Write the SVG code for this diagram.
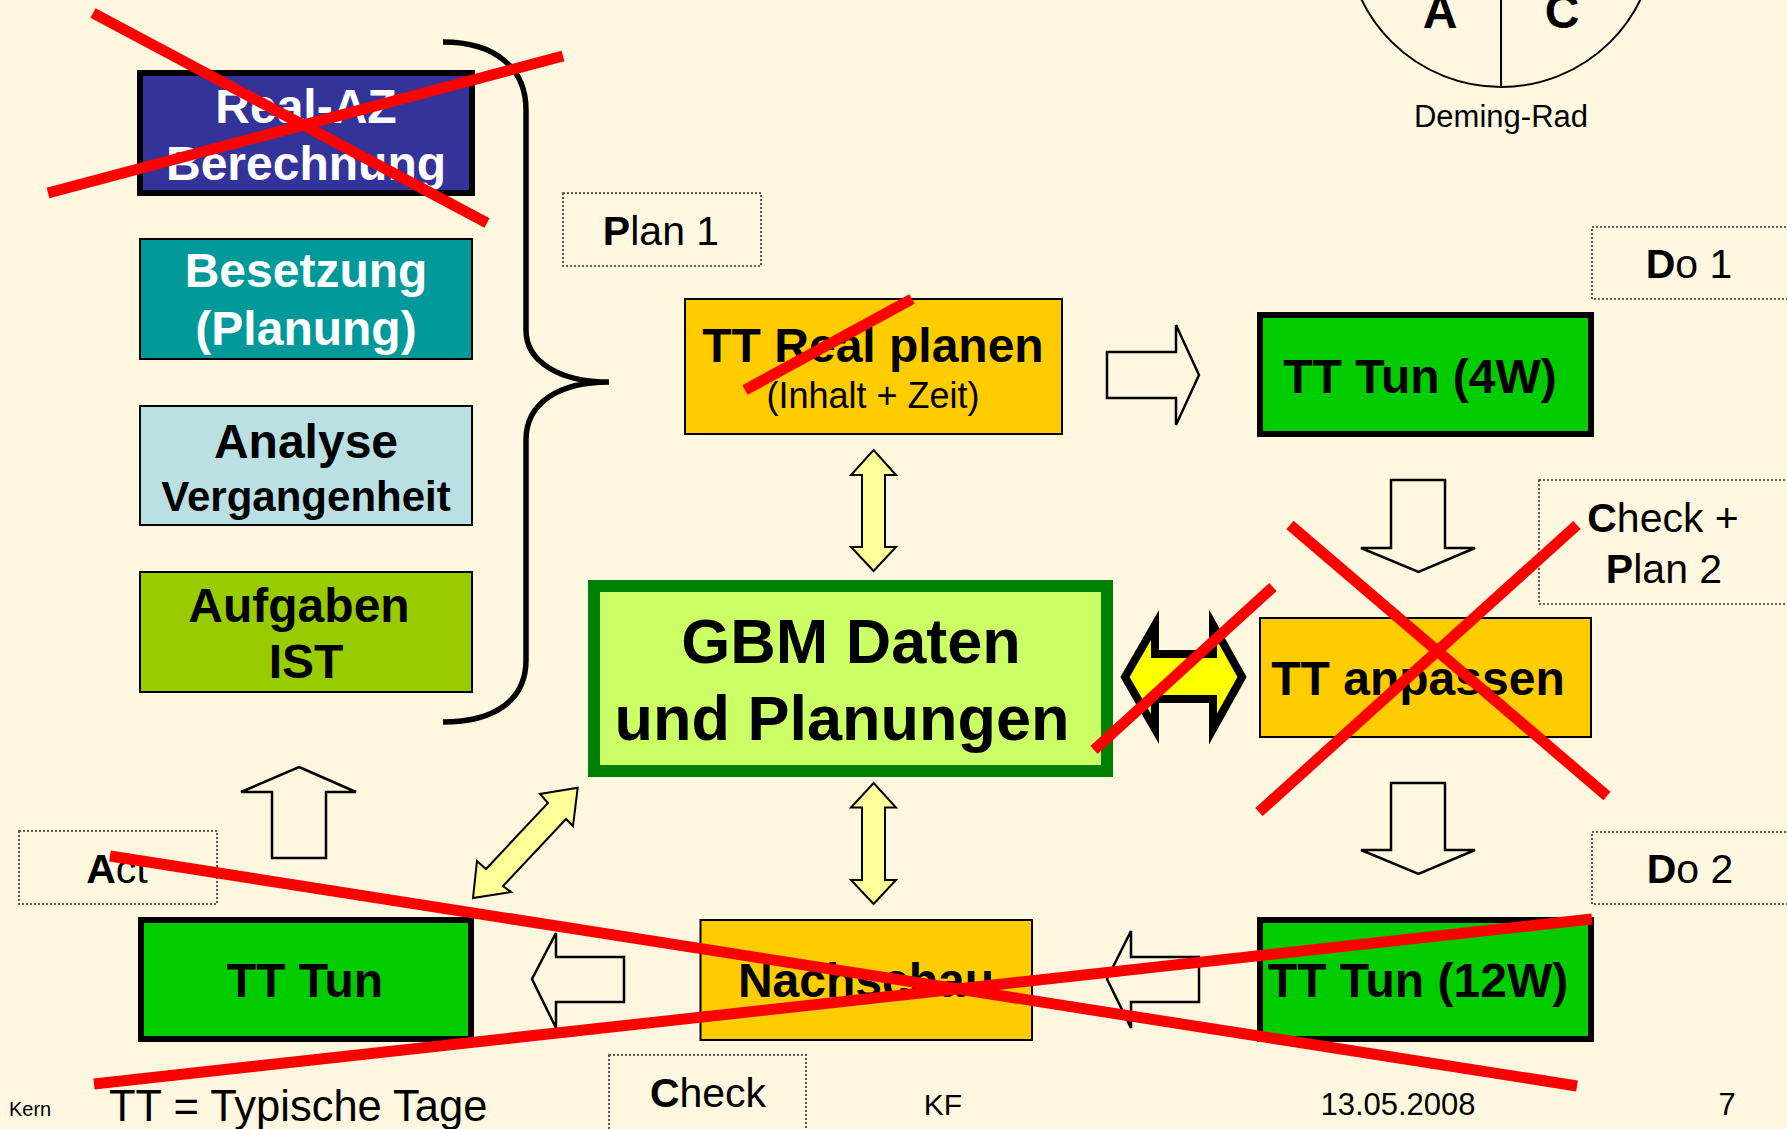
<svg xmlns="http://www.w3.org/2000/svg" width="1787" height="1129" viewBox="0 0 1787 1129">
<style>
text{font-family:"Liberation Sans",Arial,sans-serif;fill:#000}
.b{font-weight:bold}
.big{font-size:48px;font-weight:bold;text-anchor:middle}
.w{fill:#fff}
.lab{font-size:41px;text-anchor:middle}
.thin{stroke:#000;stroke-width:2}
.thick{stroke:#000;stroke-width:6}
.dot{fill:none;stroke:#333;stroke-width:1.6;stroke-dasharray:2 2}
.out{fill:#FFF7E0;stroke:#000;stroke-width:2.5;stroke-linejoin:miter}
.ya{fill:#FFFF99;stroke:#000;stroke-width:2}
.red{stroke:#FF0000;stroke-width:11;fill:none}
</style>
<rect width="1787" height="1129" fill="#FFF7E0"/>

<g id="deming">
<circle cx="1501" cy="-68" r="155" fill="none" stroke="#000" stroke-width="2"/>
<line x1="1501" y1="0" x2="1501" y2="87" stroke="#000" stroke-width="2"/>
<text x="1440" y="28" class="big">A</text>
<text x="1562" y="28" class="big">C</text>
<text x="1501" y="127" font-size="31" text-anchor="middle">Deming-Rad</text>
</g>

<g id="brace">
<path d="M443,42 C495,42 526,68 526,110 L526,330 C526,362 560,382 609,382 C560,382 526,402 526,440 L526,660 C526,700 495,722 443,722" fill="none" stroke="#000" stroke-width="5.5"/>
</g>

<g id="real-az">
<rect x="140" y="73" width="332" height="120" fill="#333399" class="thick"/>
<text x="306" y="123" class="big w">Real-AZ</text>
<text x="306" y="180" class="big w">Berechnung</text>
</g>
<g id="besetzung">
<rect x="140" y="239" width="332" height="120" fill="#009999" class="thin"/>
<text x="306" y="287" class="big w">Besetzung</text>
<text x="306" y="345" class="big w">(Planung)</text>
</g>
<g id="analyse">
<rect x="140" y="406" width="332" height="119" fill="#BBE0E3" class="thin"/>
<text x="306" y="458" class="big">Analyse</text>
<text x="306" y="511" class="big" style="font-size:42px">Vergangenheit</text>
</g>
<g id="aufgaben">
<rect x="140" y="572" width="332" height="120" fill="#99CC00" class="thin"/>
<text x="299" y="622" class="big">Aufgaben</text>
<text x="306" y="678" class="big">IST</text>
</g>

<g id="plan1">
<rect x="563" y="193" width="198" height="73" class="dot"/>
<text x="661" y="245" class="lab"><tspan class="b">P</tspan>lan 1</text>
</g>
<g id="tt-real-planen">
<rect x="685" y="299" width="377" height="135" fill="#FFCC00" class="thin"/>
<text x="873" y="362" class="big">TT Real planen</text>
<text x="873" y="408" font-size="36" text-anchor="middle">(Inhalt + Zeit)</text>
</g>
<g id="do1">
<rect x="1592" y="227" width="210" height="72" class="dot"/>
<text x="1689" y="278" class="lab"><tspan class="b">D</tspan>o 1</text>
</g>
<g id="tt-tun-4w">
<rect x="1260" y="315" width="331" height="119" fill="#00CC00" class="thick"/>
<text x="1420" y="393" class="big">TT Tun (4W)</text>
</g>
<g id="check-plan2">
<rect x="1539" y="480" width="263" height="124" class="dot"/>
<text x="1663" y="532" class="lab"><tspan class="b">C</tspan>heck +</text>
<text x="1664" y="583" class="lab"><tspan class="b">P</tspan>lan 2</text>
</g>
<g id="gbm">
<rect x="594" y="586" width="513" height="185" fill="#CCFF66" stroke="#008000" stroke-width="12"/>
<text x="851" y="663" class="big" style="font-size:63px">GBM Daten</text>
<text x="842" y="740" class="big" style="font-size:63px">und Planungen</text>
</g>
<g id="tt-anpassen">
<rect x="1260" y="618" width="331" height="119" fill="#FFCC00" class="thin"/>
<text x="1418" y="695" class="big">TT anpassen</text>
</g>
<g id="do2">
<rect x="1592" y="832" width="210" height="72" class="dot"/>
<text x="1690" y="883" class="lab"><tspan class="b">D</tspan>o 2</text>
</g>
<g id="act">
<rect x="19" y="831" width="198" height="73" class="dot"/>
<text x="117" y="883" class="lab"><tspan class="b">A</tspan>ct</text>
</g>
<g id="tt-tun">
<rect x="141" y="920" width="330" height="119" fill="#00CC00" class="thick"/>
<text x="305" y="997" class="big">TT Tun</text>
</g>
<g id="nachschau">
<rect x="700.5" y="920" width="331.5" height="120" fill="#FFCC00" class="thin"/>
<text x="866" y="997" class="big">Nachschau</text>
</g>
<g id="tt-tun-12w">
<rect x="1260" y="920" width="331" height="119" fill="#00CC00" class="thick"/>
<text x="1418" y="997" class="big">TT Tun (12W)</text>
</g>
<g id="check">
<rect x="609" y="1055" width="197" height="90" class="dot"/>
<text x="708" y="1107" class="lab"><tspan class="b">C</tspan>heck</text>
</g>

<g id="connectors">
<polygon class="out" points="1107,352 1176,352 1176,325 1199,375 1176,425 1176,398 1107,398"/>
<polygon class="out" points="1391,480 1445,480 1445,548 1475,548 1418.5,572 1361,548 1391,548"/>
<polygon class="out" points="1391,783 1445,783 1445,850 1475,850 1418.5,874 1361,850 1391,850"/>
<polygon class="out" points="1199,957 1131,957 1131,931 1107,979 1131,1028 1131,1002 1199,1002"/>
<polygon class="out" points="624,957 556,957 556,933 532,979 556,1028 556,1002 624,1002"/>
<polygon class="out" points="299,767 356,792 326,792 326,858 272,858 272,792 241,792"/>
<polygon class="ya" points="873.6,450 896,475 885,475 885,547 896,547 873.6,571 851,547 862,547 862,475 851,475"/>
<polygon class="ya" points="873.6,783 896,807.5 885,807.5 885,880 896,880 873.6,904 851,880 862,880 862,807.5 851,807.5"/>
<polygon class="ya" points="577.7,787.7 573,826 566,819 503,886 511,892 473,898 477,861 486,869 548,803 540,794"/>
<polygon points="1125,677 1155,625 1155,654 1213,654 1213,625 1242,677 1213,729 1213,699 1155,699 1155,729" fill="#FFFF00" stroke="#000" stroke-width="8"/>
</g>

<g id="footer">
<text x="9" y="1116" font-size="20">Kern</text>
<text x="109" y="1121" font-size="43.5">TT = Typische Tage</text>
<text x="943" y="1115" font-size="30" text-anchor="middle">KF</text>
<text x="1398" y="1115" font-size="31" text-anchor="middle">13.05.2008</text>
<text x="1727" y="1115" font-size="31" text-anchor="middle">7</text>
</g>

<g id="strikes">
<line class="red" x1="93" y1="13" x2="487" y2="223"/>
<line class="red" x1="48" y1="193" x2="563" y2="56"/>
<line class="red" x1="745" y1="390" x2="912" y2="299"/>
<line class="red" x1="1273" y1="587" x2="1094" y2="750"/>
<line class="red" x1="1290" y1="525" x2="1607" y2="796"/>
<line class="red" x1="1577" y1="525" x2="1259" y2="812"/>
<line class="red" x1="110" y1="856" x2="1577" y2="1086"/>
<line class="red" x1="94" y1="1084" x2="1592" y2="919"/>
</g>
</svg>
